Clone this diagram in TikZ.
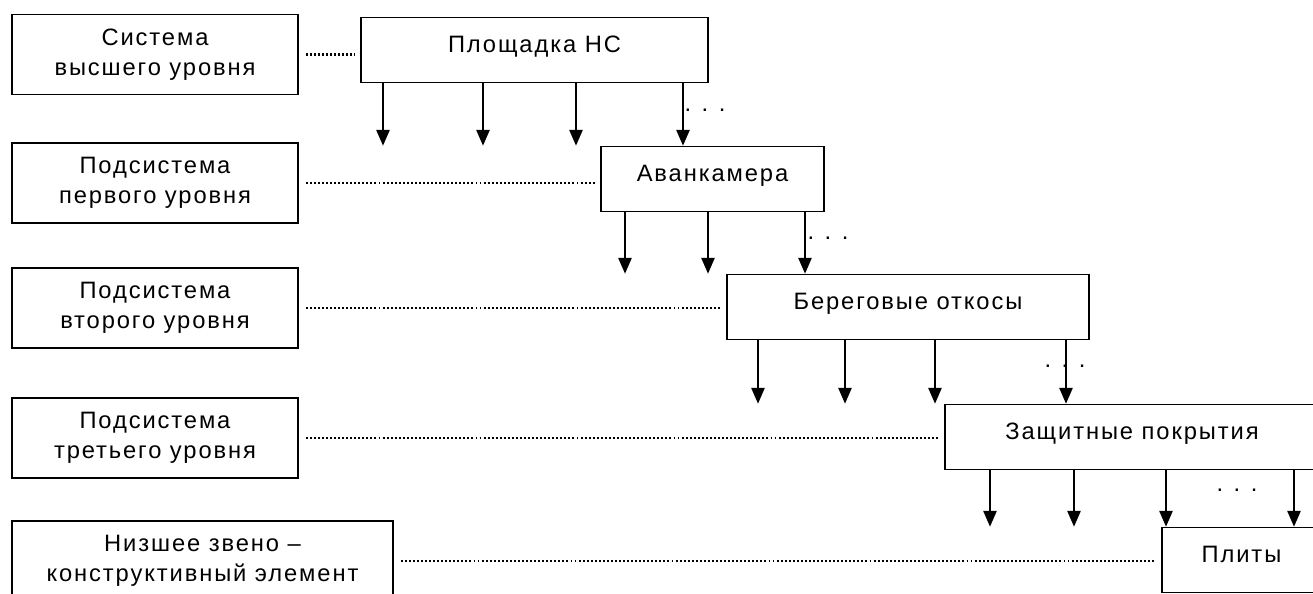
\documentclass[tikz,border=0pt]{standalone}
\usepackage{fontspec}
\setmainfont{Liberation Sans}[LetterSpace=8]
\usetikzlibrary{arrows.meta, positioning, calc}

\begin{document}
\begin{tikzpicture}[x=0.02cm, y=-0.02cm,
    lvl/.style={draw, line width=0.9pt, minimum width=5.72cm, minimum height=1.6cm, align=center, font=\fontsize{13.5}{17}\selectfont},
    part/.style={draw, line width=0.9pt, minimum height=1.3cm, font=\fontsize{13.5}{17}\selectfont, text height=0.72em, text depth=0.45em},
    dots/.style={line width=1.2pt, dash pattern=on 1.1pt off 1.2pt, shorten <=4pt, shorten >=3pt},
    arr/.style={line width=1.1pt, -{Triangle[length=9pt, width=7.5pt]}},
    etc/.style={font=\fontsize{13.5}{17}\selectfont, inner sep=0pt}]
    \clip (0,0) rectangle (1313,594);
    % levels of the system
    \node[lvl] (l1) at (155,54.5) {Система\\высшего уровня};
    \node[lvl] (l2) at (155,183) {Подсистема\\первого уровня};
    \node[lvl] (l3) at (155,308) {Подсистема\\второго уровня};
    \node[lvl] (l4) at (155,438) {Подсистема\\третьего уровня};
    \node[lvl, minimum width=7.62cm] (l5) at (202.5,561) {Низшее звено --\\конструктивный элемент};
    % elements
    \node[part, minimum width=6.94cm] (pl) at (534.5,50) {Площадка НС};
    \node[part, minimum width=4.46cm] (av) at (712.5,179) {Аванкамера};
    \node[part, minimum width=7.24cm] (bo) at (908,307) {Береговые откосы};
    \node[part, minimum width=7.48cm] (zp) at (1132,437) {Защитные покрытия};
    \node[part, minimum width=3.18cm] (pp) at (1241.5,560) {Плиты};
    % dotted links
    \draw[dots] (l1.east) -- (l1.east -| pl.west);
    \draw[dots] (l2.east) -- (l2.east -| av.west);
    \draw[dots] (l3.east) -- (l3.east -| bo.west);
    \draw[dots] (l4.east) -- (l4.east -| zp.west);
    \draw[dots] (l5.east) -- (l5.east -| pp.west);
    % decomposition arrows
    \foreach \x in {383,483,576,683}
        \draw[arr] (pl.south -| \x,0) -- (av.north -| \x,0);
    \foreach \x in {625,708,805}
        \draw[arr] (av.south -| \x,0) -- (bo.north -| \x,0);
    \foreach \x in {758,845,935,1066}
        \draw[arr] (bo.south -| \x,0) -- (zp.north -| \x,0);
    \foreach \x in {990,1074,1166,1294}
        \draw[arr] (zp.south -| \x,0) -- (pp.north -| \x,0);
    \node[etc] (e1) at (705,110) {.\hspace{6pt}.\hspace{6pt}.};
    \node[etc] (e2) at (828,238) {.\hspace{6pt}.\hspace{6pt}.};
    \node[etc] (e3) at (1065,366) {.\hspace{6pt}.\hspace{6pt}.};
    \node[etc] (e4) at (1237,490) {.\hspace{6pt}.\hspace{6pt}.};
\end{tikzpicture}
\end{document}
